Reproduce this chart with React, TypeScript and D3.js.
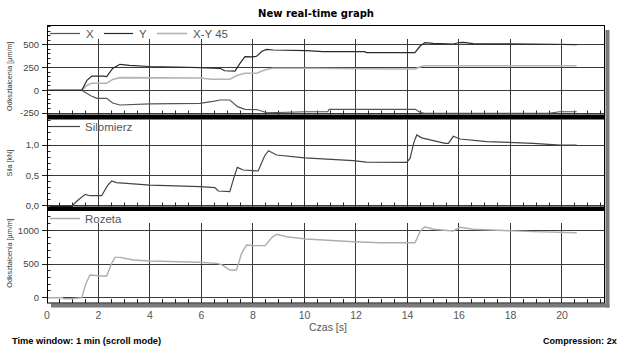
import React from "react";
import * as d3 from "d3";

// ---------- data ----------
const xTicks = [0, 2, 4, 6, 8, 10, 12, 14, 16, 18, 20];
const p1Ticks = [500, 250, 0, -250];
const p2Ticks = [1.0, 0.5, 0.0];
const p2TickLabels = ["1,0", "0,5", "0,0"];
const p3Ticks = [1000, 500, 0];

// top panel: strains [µm/m]
const seriesYTime = [0, 1.35, 1.55, 1.74, 2.2, 2.32, 2.55, 2.83, 3.2, 4.0, 5.94, 6.72, 6.9, 7.3, 7.5, 7.69, 8.0, 8.14, 8.35, 8.53, 8.78, 10.08, 10.72, 12.35, 12.4, 14.29, 14.5, 14.68, 15.0, 15.78, 16.0, 16.17, 16.55, 18.76, 20.57];
const seriesYVals = [0, 0, 110, 157, 157, 150, 240, 286, 275, 262, 249, 242, 215, 212, 300, 370, 368, 375, 430, 451, 444, 436, 425, 425, 414, 414, 490, 524, 517, 510, 526, 528, 513, 510, 502];

const seriesXTime = [0, 1.35, 1.7, 1.93, 2.32, 2.55, 2.83, 4.0, 5.94, 6.5, 6.72, 7.1, 7.4, 7.69, 8.14, 8.53, 10.08, 10.9, 10.96, 14.3, 14.5, 14.68, 19.5, 19.9, 20.57];
const seriesXVals = [0, 0, -60, -88, -88, -140, -162, -150, -143, -120, -107, -107, -180, -209, -212, -247, -236, -236, -209, -209, -245, -253, -253, -236, -236];

const seriesXY45Time = [0, 1.35, 1.55, 1.74, 2.32, 2.55, 2.83, 5.94, 6.4, 7.1, 7.4, 7.69, 8.14, 8.5, 8.78, 10.08, 13.32, 14.3, 14.5, 14.68, 20.57];
const seriesXY45Vals = [0, 0, 55, 77, 77, 120, 139, 136, 121, 121, 165, 187, 187, 230, 242, 242, 234, 234, 260, 271, 271];

// middle panel: force [kN]
const silomierzTime = [0.1, 0.94, 1.2, 1.48, 1.67, 2.12, 2.35, 2.51, 2.7, 4.0, 5.94, 6.52, 6.65, 7.1, 7.25, 7.39, 7.62, 8.2, 8.45, 8.6, 8.92, 10.0, 11.9, 12.4, 13.97, 14.1, 14.25, 14.36, 14.55, 15.46, 15.59, 15.78, 16.04, 17.08, 18.89, 19.92, 20.57];
const silomierzVals = [-0.016, -0.016, 0.09, 0.188, 0.165, 0.165, 0.33, 0.407, 0.38, 0.34, 0.314, 0.3, 0.243, 0.231, 0.45, 0.633, 0.589, 0.573, 0.82, 0.908, 0.837, 0.79, 0.743, 0.72, 0.716, 0.78, 1.05, 1.167, 1.12, 1.03, 1.03, 1.145, 1.1, 1.057, 1.03, 1.0, 1.0];

// bottom panel: rosette strain [µm/m]
const rozetaTime = [0, 0.6, 0.65, 0.95, 1.35, 1.5, 1.67, 2.12, 2.32, 2.5, 2.64, 2.83, 3.35, 4.0, 5.94, 6.59, 6.78, 7.1, 7.36, 7.55, 7.75, 8.01, 8.47, 8.75, 8.92, 9.3, 10.08, 11.9, 12.94, 14.29, 14.5, 14.68, 15.0, 15.78, 16.04, 16.55, 18.89, 20.57];
const rozetaVals = [0, 0, -15, -15, 0, 200, 337, 322, 322, 500, 599, 599, 559, 544, 525, 510, 490, 411, 411, 650, 782, 772, 772, 900, 940, 905, 871, 831, 816, 816, 990, 1053, 1015, 990, 1045, 1015, 980, 964];

// ---------- layout ----------
const W = 619;
const H = 352;
const L = 47;
const R = 605;
const FONT = "'Liberation Sans', Arial, sans-serif";
const GRID = "#3a3a3a";

const x = d3.scaleLinear().domain([0, 21.67]).range([L, R]);

type Panel = {
  top: number;
  bottom: number;
  gridTop: number;
  y: d3.ScaleLinear<number, number>;
  ticks: number[];
  labels: string[];
  minor: number[];
  title: string;
};

const p1y = d3.scaleLinear().domain([-266.5, 708]).range([114.5, 26]);
const p2y = d3.scaleLinear().domain([-0.013, 1.414]).range([206.5, 120]);
const p3y = d3.scaleLinear().domain([-78.6, 1279]).range([303, 211.5]);

const panels: Panel[] = [
  {
    top: 26, bottom: 114.5, gridTop: 39, y: p1y, ticks: p1Ticks,
    labels: p1Ticks.map(String), minor: d3.range(-250, 701, 50),
    title: "Odkształcenia [µm/m]",
  },
  {
    top: 119.5, bottom: 206.5, gridTop: 119.5, y: p2y, ticks: p2Ticks,
    labels: p2TickLabels, minor: d3.range(0, 14.01, 1).map((v) => v / 10),
    title: "Siła [kN]",
  },
  {
    top: 211, bottom: 303, gridTop: 223, y: p3y, ticks: p3Ticks,
    labels: p3Ticks.map(String), minor: d3.range(0, 1201, 100),
    title: "Odkształcenia [µm/m]",
  },
];

const crisp = (v: number) => Math.round(v - 0.5) + 0.5;

function makeLine(ys: d3.ScaleLinear<number, number>, ts: number[], vs: number[]) {
  const pts = ts.map((t, i) => [t, vs[i]] as [number, number]);
  return d3
    .line<[number, number]>()
    .x((d) => x(d[0]))
    .y((d) => ys(d[1]))(pts) as string;
}

const bottomMinor = d3.range(1, 44).map((i) => i * 0.5);

export default function App() {
  return (
    <svg
      width={W}
      height={H}
      style={{ position: "fixed", left: 0, top: 0, background: "#fff" }}
      fontFamily={FONT}
    >
      <rect x={0} y={0} width={W} height={H} fill="#fff" />
      {/* title */}
      <text x={316} y={17} textAnchor="middle" fontFamily="'DejaVu Sans', sans-serif" fontWeight="bold" fontSize={10} fill="#000">
        New real-time graph
      </text>

      {/* shadow */}
      <rect x={605.5} y={30} width={4} height={277.5} fill="#7a7a7a" />
      <rect x={51} y={303.5} width={558.5} height={4} fill="#7a7a7a" />

      {panels.map((p, pi) => (
        <g key={pi}>
          {/* horizontal grid */}
          {p.ticks.map((v) => (
            <line key={"h" + v} x1={L} x2={R} y1={crisp(p.y(v))} y2={crisp(p.y(v))} stroke={GRID} strokeWidth={1} />
          ))}
          {/* vertical grid */}
          {xTicks.slice(1).map((t) => (
            <line key={"v" + t} x1={crisp(x(t))} x2={crisp(x(t))} y1={p.gridTop} y2={p.bottom} stroke={GRID} strokeWidth={1} />
          ))}
          {/* minor y ticks */}
          {p.minor.map((v, i) => (
            <line key={"m" + i} x1={L} x2={L + 3.5} y1={crisp(p.y(v))} y2={crisp(p.y(v))} stroke="#222" strokeWidth={1} />
          ))}
          {/* major y ticks + labels */}
          {p.ticks.map((v, i) => (
            <g key={"t" + i}>
              <line x1={42} x2={L + 3.5} y1={crisp(p.y(v))} y2={crisp(p.y(v))} stroke="#222" strokeWidth={1} />
              <text x={39} y={p.y(v) + 3.3} textAnchor="end" fontSize={9.5} fill="#444">
                {p.labels[i]}
              </text>
            </g>
          ))}
          {/* bottom ticks */}
          {bottomMinor.map((t, i) => (
            <line key={"b" + i} x1={crisp(x(t))} x2={crisp(x(t))} y1={p.bottom - 4} y2={p.bottom} stroke="#222" strokeWidth={1} />
          ))}
          {/* y title */}
          <text
            transform={`translate(12,${(p.top + p.bottom) / 2 + (pi === 0 ? 6 : pi === 2 ? -4 : 0)}) rotate(-90)`}
            textAnchor="middle"
            fontSize={7.2}
            fill="#333"
          >
            {p.title}
          </text>
        </g>
      ))}

      {/* data lines */}
      <path d={makeLine(p1y, seriesXY45Time, seriesXY45Vals)} fill="none" stroke="#b4b4b4" strokeWidth={1.6} />
      <path d={makeLine(p1y, seriesXTime, seriesXVals)} fill="none" stroke="#555" strokeWidth={1.2} />
      <path d={makeLine(p1y, seriesYTime, seriesYVals)} fill="none" stroke="#2a2a2a" strokeWidth={1.2} />
      <path d={makeLine(p2y, silomierzTime, silomierzVals)} fill="none" stroke="#444" strokeWidth={1.2} />
      <path d={makeLine(p3y, rozetaTime, rozetaVals)} fill="none" stroke="#adadad" strokeWidth={1.4} />

      {/* legends */}
      <g fontSize={11.5} fill="#555">
        <line x1={50} x2={80} y1={33.5} y2={33.5} stroke="#555" strokeWidth={1.2} />
        <text x={86} y={37.5}>X</text>
        <line x1={104} x2={133} y1={33.5} y2={33.5} stroke="#2a2a2a" strokeWidth={1.2} />
        <text x={139} y={37.5}>Y</text>
        <line x1={157} x2={187} y1={33.5} y2={33.5} stroke="#b4b4b4" strokeWidth={1.6} />
        <text x={193} y={37.5}>X-Y 45</text>
        <line x1={50} x2={80} y1={126.5} y2={126.5} stroke="#444" strokeWidth={1.2} />
        <text x={85} y={130.5}>Silomierz</text>
        <line x1={50} x2={80} y1={218.5} y2={218.5} stroke="#adadad" strokeWidth={1.6} />
        <text x={85} y={222.5}>Rozeta</text>
      </g>

      {/* separators */}
      <rect x={L} y={114.5} width={R - L} height={5} fill="#000" />
      <rect x={L} y={206.5} width={R - L} height={4.5} fill="#000" />

      {/* frame */}
      <rect x={L + 0.5} y={25.5} width={R - L - 1} height={277.5} fill="none" stroke="#000" strokeWidth={1} />

      {/* x tick labels */}
      {xTicks.map((t) => (
        <text key={"xl" + t} x={x(t)} y={318.5} textAnchor="middle" fontSize={10.5} fill="#555">
          {t}
        </text>
      ))}
      <text x={328} y={331} textAnchor="middle" fontSize={10.5} fill="#555">
        Czas [s]
      </text>

      {/* footer */}
      <text x={12} y={344} fontSize={9.3} fontWeight="bold" fill="#000">
        Time window: 1 min (scroll mode)
      </text>
      <text x={543} y={344} fontSize={9.1} fontWeight="bold" fill="#000">
        Compression: 2x
      </text>
    </svg>
  );
}
